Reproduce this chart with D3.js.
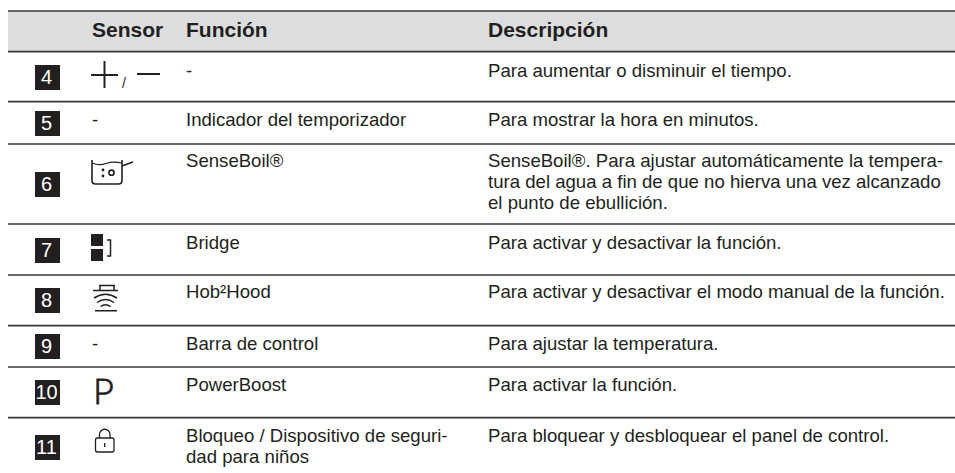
<!DOCTYPE html>
<html>
<head>
<meta charset="utf-8">
<script src="https://cdn.jsdelivr.net/npm/d3@7"></script>
<style>
  html, body { margin: 0; padding: 0; background: #fff; }
  svg { display: block; }
  text { font-family: "Liberation Sans", Arial, sans-serif; fill: #231f20; }
</style>
</head>
<body>
<svg width="955" height="473"></svg>
<script>
const headers = ["Sensor", "Función", "Descripción"]
const rowNumbers = ["4", "5", "6", "7", "8", "9", "10", "11"]
const sensors = ["plusminus", "-", "boil", "bridge", "hood", "-", "P", "lock"]
const functions = [
  ["-"],
  ["Indicador del temporizador"],
  ["SenseBoil®"],
  ["Bridge"],
  ["Hob²Hood"],
  ["Barra de control"],
  ["PowerBoost"],
  ["Bloqueo / Dispositivo de seguri-", "dad para niños"],
]
const descriptions = [
  ["Para aumentar o disminuir el tiempo."],
  ["Para mostrar la hora en minutos."],
  ["SenseBoil®. Para ajustar automáticamente la tempera-", "tura del agua a fin de que no hierva una vez alcanzado", "el punto de ebullición."],
  ["Para activar y desactivar la función."],
  ["Para activar y desactivar el modo manual de la función."],
  ["Para ajustar la temperatura."],
  ["Para activar la función."],
  ["Para bloquear y desbloquear el panel de control."],
]

// layout
const ruleY = [11, 51.7, 101.7, 144, 224, 275, 325.7, 367, 417.7]
const badgeY = [65, 111, 172, 238, 288, 334, 380, 435]
const firstBaseline = [77, 126, 167, 249, 298, 350, 390.5, 442]
const lineHeight = 20.8
const bodySize = 18.6
const ink = "#231f20"

const svg = d3.select("svg")
const x = d3.scaleOrdinal().domain(["badge", ...headers]).range([35, 92, 186, 488])

svg.append("rect")
  .attr("x", 8).attr("y", ruleY[0]).attr("width", 947).attr("height", ruleY[1] - ruleY[0])
  .attr("fill", "#dcddde")

svg.append("g").selectAll("line").data(ruleY).join("line")
  .attr("x1", 8).attr("x2", 955)
  .attr("y1", d => d).attr("y2", d => d)
  .attr("stroke", "#3a3637")
  .attr("stroke-width", 1.7)

svg.append("g").selectAll("text").data(headers).join("text")
  .attr("x", d => x(d))
  .attr("y", 37)
  .attr("font-size", 21)
  .attr("font-weight", "bold")
  .text(d => d)

const rows = svg.append("g").selectAll("g").data(rowNumbers).join("g")

rows.append("rect")
  .attr("x", x("badge"))
  .attr("y", (d, i) => badgeY[i])
  .attr("width", 25).attr("height", 25)
  .attr("fill", "#231f20")

rows.append("text")
  .attr("x", x("badge") + 11.5)
  .attr("y", (d, i) => badgeY[i] + 19)
  .attr("text-anchor", "middle")
  .attr("font-size", 20)
  .style("fill", "#fff")
  .text(d => d)

function textColumn(name, lines) {
  rows.each(function(d, i) {
    d3.select(this).append("text").selectAll("tspan").data(lines[i]).join("tspan")
      .attr("x", x(name))
      .attr("y", (l, j) => firstBaseline[i] + j * lineHeight)
      .attr("font-size", bodySize)
      .text(l => l)
  })
}
textColumn("Función", functions)
textColumn("Descripción", descriptions)

// sensor symbols
const icons = {
  "plusminus": g => {
    g.append("path").attr("d", "M91 75H118M104.5 61V88M137 74H160").attr("stroke", ink).attr("stroke-width", 2).attr("fill", "none")
    g.append("text").attr("x", 122).attr("y", 88).attr("font-size", 14).text("/")
  },
  "boil": g => {
    g.append("path").attr("d", "M92 160V180.5Q92 184 95.5 184H118.5Q122 184 122 180.5V160M122 166L133 162")
      .attr("stroke", ink).attr("stroke-width", 1.6).attr("fill", "none")
    g.append("path").attr("d", "M92 163Q99 166 106 163.5T122 163").attr("stroke", ink).attr("stroke-width", 1.1).attr("fill", "none")
    g.append("circle").attr("cx", 111.5).attr("cy", 172.7).attr("r", 2.6).attr("stroke", ink).attr("stroke-width", 1.6).attr("fill", "none")
    g.append("circle").attr("cx", 103).attr("cy", 170).attr("r", 1.4).attr("fill", ink)
    g.append("circle").attr("cx", 103).attr("cy", 176).attr("r", 1.4).attr("fill", ink)
  },
  "bridge": g => {
    g.append("rect").attr("x", 91).attr("y", 234).attr("width", 12).attr("height", 12).attr("fill", ink)
    g.append("rect").attr("x", 91).attr("y", 249).attr("width", 12).attr("height", 12).attr("fill", ink)
    g.append("path").attr("d", "M107 240H110.5V256H107").attr("stroke", ink).attr("stroke-width", 1.5).attr("fill", "none")
  },
  "hood": g => {
    g.append("path").attr("d", "M93 290.5H118M99 285.5H115M100 285.5V290.5M114 285.5V290.5M95 310.7H117").attr("stroke", ink).attr("stroke-width", 1.5).attr("fill", "none")
    g.append("path").attr("d", "M94 298Q105.5 290.5 117 298M97 302.5Q105.5 296.5 114 302.5M100.5 306.5Q105.5 303 110.5 306.5").attr("stroke", ink).attr("stroke-width", 1.5).attr("fill", "none")
  },
  "lock": g => {
    g.append("rect").attr("x", 95.5).attr("y", 438).attr("width", 18.5).attr("height", 14).attr("rx", 2).attr("stroke", ink).attr("stroke-width", 1.3).attr("fill", "none")
    g.append("path").attr("d", "M99.5 438V434.5A5.2 5.2 0 0 1 110 434.5V438M104.7 443V447").attr("stroke", ink).attr("stroke-width", 1.3).attr("fill", "none")
  },
  "P": g => {
    g.append("text").attr("x", 93).attr("y", 404).style("font-family", "Lato").attr("font-weight", 300).attr("font-size", 36)
      .attr("stroke", ink).attr("stroke-width", 0.8).text("P")
  },
}

rows.each(function(d, i) {
  const s = sensors[i]
  const g = d3.select(this).append("g")
  if (icons[s]) icons[s](g)
  else g.append("text").attr("x", x("Sensor")).attr("y", firstBaseline[i]).attr("font-size", bodySize).text(s)
})
</script>
</body>
</html>
